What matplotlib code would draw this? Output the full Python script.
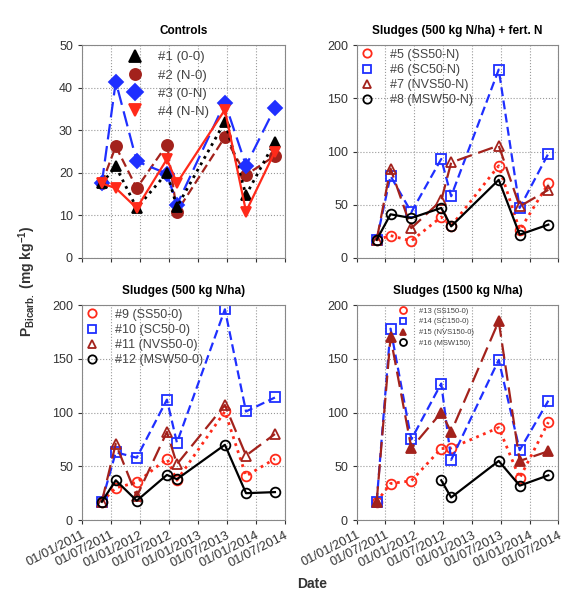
import numpy as np
import pandas as pd
import matplotlib
matplotlib.use("Agg")
import matplotlib.pyplot as plt
from matplotlib.lines import Line2D

plt.rcParams['font.family'] = ['Liberation Sans', 'DejaVu Sans']

# fechas de muestreo
dates = pd.to_datetime(['2011-05-06', '2011-08-02', '2011-12-12', '2012-06-19',
                        '2012-08-21', '2013-06-19', '2013-10-30', '2014-04-30'])
tick_dates = pd.to_datetime(['2011-01-01', '2011-07-01', '2012-01-01', '2012-07-01',
                             '2013-01-01', '2013-07-01', '2014-01-01', '2014-07-01'])
tick_labels = ['01/01/2011', '01/07/2011', '01/01/2012', '01/07/2012',
               '01/01/2013', '01/07/2013', '01/01/2014', '01/07/2014']

# Controls
c1 = [17.5, 21.5, 11.7, 20.0, 12.0, 32.0, 14.8, 27.3]
c2 = [17.5, 26.2, 16.4, 26.6, 10.9, 28.4, 19.5, 24.0]
c3 = [17.5, 41.4, 22.7, 19.8, 12.5, 36.5, 21.7, 35.3]
c4 = [17.5, 16.4, 11.7, 23.2, 17.6, 34.8, 10.9, 25.0]

# Sludges 500 + fert N
s5 = [17, 21, 16, 38.5, 30, 86.6, 26, 70]
s6 = [17, 77, 43, 93, 58, 177, 47, 98]
s7 = [17, 84, 28, 54, 89.7, 105.6, 48.4, 64]
s8 = [17, 41, 37.5, 47, 29.7, 73.4, 21.9, 31.3]

# Sludges 500
s9 = [17, 30, 35, 57, 37, 101, 41, 57]
s10 = [17, 63, 58, 112, 72, 196, 101, 114]
s11 = [17, 71, 22, 82, 52, 107, 60, 80]
s12 = [17, 37, 18, 42, 38, 70, 25, 26]

# Sludges 1500
s13 = [17, 34, 36.5, 66.5, 67, 86, 39, 91]
s14 = [17, 178, 75, 127, 56, 149, 65, 111]
s15 = [17, 170, 67, 100, 82, 185, 55, 64]
s16 = [np.nan, np.nan, np.nan, 37, 21, 55, 32, 41.6]

BLUE = '#1f2fff'
RED = '#ff2a1a'
DRED = '#a3221c'

fig = plt.figure(figsize=(5.73, 5.93), dpi=100)
ax1 = fig.add_axes([0.143, 0.565, 0.354, 0.359])
ax2 = fig.add_axes([0.623, 0.565, 0.351, 0.359])
ax3 = fig.add_axes([0.143, 0.123, 0.354, 0.3626])
ax4 = fig.add_axes([0.623, 0.123, 0.351, 0.3626])


def style_ax(ax, ymax, step, title, show_x):
    ax.set_xlim(tick_dates[0], tick_dates[-1])
    ax.set_ylim(0, ymax)
    ax.set_yticks(np.arange(0, ymax + 1, step))
    ax.set_xticks(tick_dates)
    if show_x:
        ax.set_xticklabels(tick_labels, rotation=27, ha='right',
                           rotation_mode='anchor', fontsize=9.3, color='#3a3a3a')
    else:
        ax.set_xticklabels([])
    ax.tick_params(axis='y', labelsize=9, colors='#333333', length=3)
    ax.tick_params(axis='x', length=3, colors='#333333')
    ax.grid(True, linestyle=':', color='#999999', linewidth=0.8)
    for sp in ax.spines.values():
        sp.set_color('#888888')
    ax.set_title(title, fontsize=8.5, fontweight='bold', pad=8)


def serie(ax, y, color, marker, ls, filled, ms=7, lw=1.6):
    ax.plot(dates, y, color=color, linestyle=ls, linewidth=lw, marker=marker,
            markersize=ms, markerfacecolor=color if filled else 'none',
            markeredgecolor=color, markeredgewidth=1.3, dash_capstyle='butt')


def leyenda(ax, labels, colors, markers, filled, fs, anchor, ms=7, spacing=0.25, pad=1.35):
    handles = []
    for lab, col, mk, fi in zip(labels, colors, markers, filled):
        handles.append(Line2D([], [], linestyle='none', marker=mk, color=col,
                              markersize=ms, markerfacecolor=col if fi else 'none',
                              markeredgewidth=1.3, label=lab))
    ax.legend(handles=handles, loc='upper left', bbox_to_anchor=anchor, frameon=False,
              fontsize=fs, handlelength=1.0, handletextpad=pad, labelspacing=spacing,
              labelcolor='#444444', borderaxespad=0.1, borderpad=0.2)


# Controls
serie(ax1, c2, DRED, 'o', (0, (4, 2)), True, ms=8)
serie(ax1, c3, BLUE, 'D', (0, (7, 3)), True, ms=7)
serie(ax1, c1, 'black', '^', ':', True, ms=7, lw=2)
serie(ax1, c4, RED, 'v', '-', True, ms=7)
style_ax(ax1, 50, 10, 'Controls', False)
leyenda(ax1, ['#1 (0-0)', '#2 (N-0)', '#3 (0-N)', '#4 (N-N)'],
        ['black', DRED, BLUE, RED], ['^', 'o', 'D', 'v'], [True] * 4, 9.5,
        (0.21, 0.99), ms=8, spacing=0.45, pad=1.2)

# Sludges 500 + N
serie(ax2, s5, RED, 'o', ':', False, lw=2)
serie(ax2, s6, BLUE, 's', (0, (4, 2)), False)
serie(ax2, s7, DRED, '^', (0, (7, 3)), False)
serie(ax2, s8, 'black', 'o', '-', False)
style_ax(ax2, 200, 50, 'Sludges (500 kg N/ha) + fert. N', False)
leyenda(ax2, ['#5 (SS50-N)', '#6 (SC50-N)', '#7 (NVS50-N)', '#8 (MSW50-N)'],
        [RED, BLUE, DRED, 'black'], ['o', 's', '^', 'o'], [False] * 4, 9, (0.0, 1.0), ms=6)

# Sludges 500
serie(ax3, s9, RED, 'o', ':', False, lw=2)
serie(ax3, s10, BLUE, 's', (0, (4, 2)), False)
serie(ax3, s11, DRED, '^', (0, (7, 3)), False)
serie(ax3, s12, 'black', 'o', '-', False)
style_ax(ax3, 200, 50, 'Sludges (500 kg N/ha)', True)
leyenda(ax3, ['#9 (SS50-0)', '#10 (SC50-0)', '#11 (NVS50-0)', '#12 (MSW50-0)'],
        [RED, BLUE, DRED, 'black'], ['o', 's', '^', 'o'], [False] * 4, 9, (0.0, 1.0), ms=6)

# Sludges 1500
serie(ax4, s13, RED, 'o', ':', False, lw=2)
serie(ax4, s14, BLUE, 's', (0, (4, 2)), False)
serie(ax4, s15, DRED, '^', (0, (7, 3)), True)
serie(ax4, s16, 'black', 'o', '-', False)
style_ax(ax4, 200, 50, 'Sludges (1500 kg N/ha)', True)
leyenda(ax4, ['#13 (SS150-0)', '#14 (SC150-0)', '#15 (NVS150-0)', '#16 (MSW150)'],
        [RED, BLUE, DRED, 'black'], ['o', 's', '^', 'o'], [False, False, True, False], 5.5,
        (0.2, 1.0), ms=5, spacing=0.45, pad=1.6)

fig.text(0.048, 0.525, r'P$_{\mathregular{Bicarb.}}$ (mg kg$^{\mathregular{-1}}$)', rotation=90,
         ha='center', va='center', fontsize=10, fontweight='bold', color='#333333')
fig.text(0.545, 0.003, 'Date', ha='center', va='bottom', fontsize=10, fontweight='bold',
         color='#333333')

fig.savefig('out.png', dpi=100)
